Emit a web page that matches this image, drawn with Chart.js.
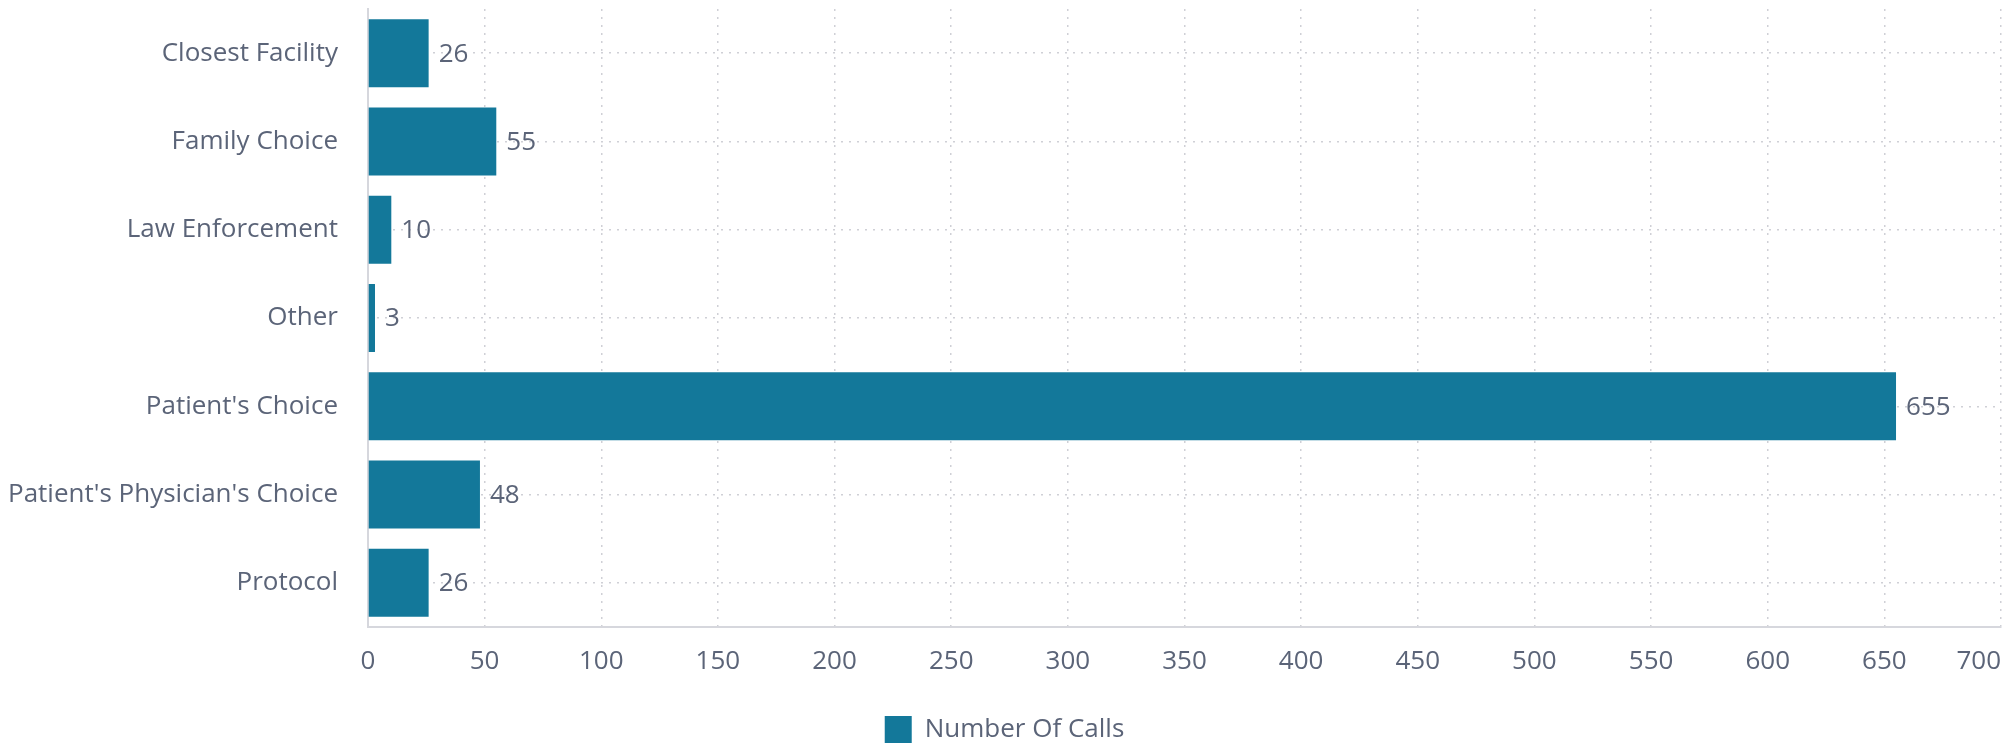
<!DOCTYPE html>
<html lang="en">
<head>
    <meta charset="UTF-8">
    <title>Number Of Calls</title>
    <script src="https://cdn.jsdelivr.net/npm/chart.js"></script>
    <style>
        body {
            margin: 0;
            padding: 0;
            background: #ffffff;
        }
        #wrap {
            width: 2004px;
            height: 746px;
        }
    </style>
</head>
<body>
    <div id="wrap"><canvas id="grafica"></canvas></div>

    <script>
        // datos
        const categorias = ["Closest Facility", "Family Choice", "Law Enforcement", "Other", "Patient's Choice", "Patient's Physician's Choice", "Protocol"];
        const llamadas = [26, 55, 10, 3, 655, 48, 26];
        const serieNombre = 'Number Of Calls';
        const ejeMin = 0;
        const ejeMax = 700;
        const ejePaso = 50;

        const colorBarra = '#13789a';
        const colorTexto = '#5b6478';
        const colorRejilla = '#cfd0d6';
        const colorEje = '#d6d7dd';
        const fuente = { family: "'Open Sans', sans-serif", size: 26 };

        // numeros al final de cada barra
        const etiquetasValor = {
            id: 'etiquetasValor',
            afterDatasetsDraw(chart) {
                const ctx = chart.ctx;
                const meta = chart.getDatasetMeta(0);
                ctx.save();
                ctx.font = fuente.size + 'px ' + fuente.family;
                ctx.fillStyle = colorTexto;
                ctx.textAlign = 'left';
                ctx.textBaseline = 'middle';
                meta.data.forEach((barra, i) => {
                    ctx.fillText(llamadas[i], barra.x + 10, barra.y + 1);
                });
                ctx.restore();
            }
        };

        // el ultimo tick (700) se alinea a la derecha para no salirse
        const ultimoTick = {
            id: 'ultimoTick',
            beforeDraw(chart) {
                const escala = chart.scales.x;
                const items = escala.getLabelItems(chart.chartArea);
                const ultimo = items[items.length - 1];
                if (ultimo) {
                    ultimo.options.textAlign = 'right';
                    ultimo.options.translation[0] = escala.right;
                }
            }
        };

        const ctx = document.getElementById('grafica').getContext('2d');
        window.miGrafico = new Chart(ctx, {
            type: 'bar',
            data: {
                labels: categorias,
                datasets: [{
                    label: serieNombre,
                    data: llamadas,
                    backgroundColor: colorBarra,
                    borderWidth: 0,
                    categoryPercentage: 0.85,
                    barPercentage: 0.906
                }]
            },
            options: {
                indexAxis: 'y',
                responsive: true,
                maintainAspectRatio: false,
                animation: false,
                layout: {
                    // abajo negativo: la leyenda de Chart.js deja 10px fijos debajo
                    padding: { top: 9, left: 8, right: 3, bottom: -7 }
                },
                scales: {
                    x: {
                        min: ejeMin,
                        max: ejeMax,
                        ticks: {
                            stepSize: ejePaso,
                            color: colorTexto,
                            font: fuente,
                            padding: 19,
                            maxRotation: 0
                        },
                        grid: {
                            color: colorRejilla,
                            lineWidth: 1.5,
                            drawTicks: false
                        },
                        border: {
                            color: colorEje,
                            width: 2,
                            dash: [2, 6]
                        },
                        afterFit(escala) {
                            escala.paddingRight = 0;
                            escala.height = 86;
                        }
                    },
                    y: {
                        ticks: {
                            color: colorTexto,
                            font: fuente,
                            padding: 30
                        },
                        grid: {
                            color: colorRejilla,
                            lineWidth: 1.5,
                            drawTicks: false,
                            offset: false
                        },
                        border: {
                            color: colorEje,
                            width: 2,
                            dash: [2, 6]
                        },
                        afterFit(escala) {
                            // Chart.js cuenta el padding dos veces en el ancho
                            escala.width -= escala.options.ticks.padding;
                            escala.paddingTop = 0;
                            escala.paddingBottom = 0;
                        }
                    }
                },
                plugins: {
                    legend: {
                        position: 'bottom',
                        labels: {
                            color: colorTexto,
                            font: fuente,
                            boxWidth: 27,
                            boxHeight: 27,
                            padding: 3
                        }
                    },
                    tooltip: { enabled: false }
                }
            },
            plugins: [etiquetasValor, ultimoTick]
        });
    </script>
</body>
</html>
